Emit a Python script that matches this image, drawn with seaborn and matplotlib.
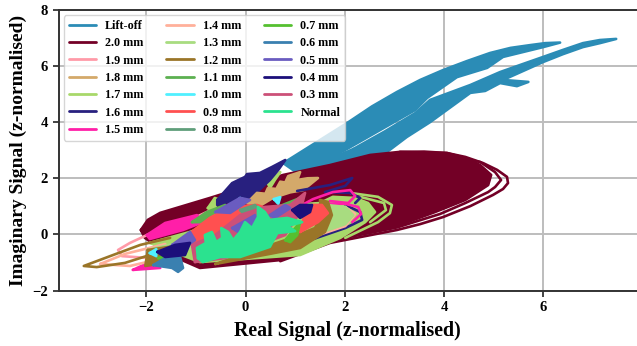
#plotting impedance loci (real vs imaginary) by defect depth
import seaborn as sns
import matplotlib.pyplot as plt

# values, (x, y) in z-normalised units
liftoff_a_x = [0.76, 2.05, 2.55, 3.05, 3.52, 3.98, 4.46, 4.93, 5.34, 5.74, 6.04, 6.34, 6.00, 5.19, 4.87, 4.26, 3.66, 3.42, 2.11, 1.10]
liftoff_a_y = [2.54, 3.97, 4.56, 5.07, 5.50, 5.85, 6.17, 6.46, 6.64, 6.74, 6.81, 6.83, 6.67, 6.32, 5.93, 5.60, 4.86, 4.43, 3.11, 2.12]
liftoff_b_x = [2.17, 2.81, 3.42, 3.72, 4.53, 5.13, 5.53, 6.00, 6.40, 6.80, 7.14, 7.47, 7.14, 6.80, 6.40, 6.00, 5.19, 5.70, 5.47, 5.13, 4.83, 4.53, 3.72, 3.25, 2.77, 1.70, 1.10]
liftoff_b_y = [3.04, 3.67, 4.32, 4.79, 5.32, 5.78, 6.03, 6.32, 6.57, 6.81, 6.92, 6.96, 6.81, 6.67, 6.42, 6.14, 5.50, 5.43, 5.28, 5.39, 5.11, 5.04, 4.00, 3.47, 2.83, 2.22, 2.22]

d20_x = [-2.11, -1.97, -1.72, -0.72, 0.76, 1.70, 2.51, 3.11, 3.60, 4.06, 4.43, 4.73, 4.95, 4.89, 4.43, 3.82, 3.05, 1.70, 0.70, -0.92, -1.52, -2.03]
d20_y = [0.16, 0.52, 0.77, 1.30, 2.12, 2.47, 2.83, 2.94, 2.95, 2.90, 2.72, 2.47, 2.12, 1.76, 1.23, 0.80, 0.30, -0.15, -0.91, -1.19, -0.73, -0.12]
d20_outer_x = [3.11, 4.06, 4.43, 4.79, 5.07, 5.27, 5.29, 5.19, 4.99, 4.53, 3.98, 3.52, 3.05, 1.70, 0.70]
d20_outer_y = [2.94, 2.90, 2.76, 2.54, 2.30, 2.05, 1.83, 1.62, 1.41, 1.01, 0.62, 0.37, 0.16, -0.30, -0.95]
d20_inner_x = [4.32, 4.73, 5.03, 5.15, 5.03, 4.89, 4.43, 3.92, 3.05, 1.70]
d20_inner_y = [2.72, 2.58, 2.22, 1.94, 1.69, 1.51, 1.12, 0.73, 0.25, -0.23]

d19_x = [-0.61, -1.12, -1.72, -2.33, -2.57, -2.49, -1.93, -1.32]
d19_y = [0.94, 0.52, 0.20, -0.30, -0.55, -0.77, -0.84, -0.55]

d18_x = [0.03, 0.23, 0.40, 0.45, 0.62, 0.70, 0.80, 0.86, 1.10, 1.04, 1.25, 1.46, 1.16, 0.90, 0.55, 0.25]
d18_y = [1.12, 1.48, 1.45, 1.65, 1.62, 1.88, 1.85, 2.08, 2.22, 1.94, 2.00, 2.01, 1.58, 1.50, 1.30, 0.98]

d17_x = [-1.93, -1.12, -0.11, 0.90, 1.50, 1.76, 2.21, 2.47, 2.61, 2.41, 1.91, 1.10, -0.92]
d17_y = [-0.30, 0.09, 0.77, 1.05, 1.12, 1.34, 1.30, 1.12, 0.80, 0.44, -0.12, -0.73, -0.98]
d17_ring_a_x = [2.11, 2.67, 2.95, 2.91, 2.67, 2.01]
d17_ring_a_y = [1.48, 1.34, 1.05, 0.76, 0.44, -0.12]
d17_ring_b_x = [2.31, 2.79, 2.83, 2.51]
d17_ring_b_y = [1.34, 1.12, 0.87, 0.44]
d17_strip_a_x = [-0.76, -0.62, -0.51, -0.66]
d17_strip_a_y = [0.94, 1.30, 1.23, 0.87]
d17_strip_b_x = [0.45, 0.70, 0.59, 0.49]
d17_strip_b_y = [1.83, 2.22, 1.94, 1.65]

d16_x = [-0.57, -0.27, -0.01, 0.03, 0.29, 0.53, 0.80, 0.66, 0.49, 0.19, -0.11, -0.37, -0.57]
d16_y = [1.23, 1.83, 2.05, 2.15, 2.19, 2.40, 2.65, 2.30, 1.94, 1.44, 1.15, 1.15, 1.05]
d16_loop_a_x = [1.04, 1.70, 2.15, 2.01, 1.60, 2.11, 2.31, 2.21]
d16_loop_a_y = [1.55, 1.76, 2.01, 1.73, 1.51, 1.48, 1.30, 1.12]
d16_loop_b_x = [2.01, 2.31, 2.35, 2.01, 1.30, 0.70]
d16_loop_b_y = [1.05, 0.80, 0.52, 0.23, -0.20, -0.41]

d15_x = [-1.99, -1.62, -0.98, -0.86, -1.26, -1.93]
d15_y = [-0.02, 0.41, 0.69, 0.44, 0.16, -0.16]
d15_low_x = [-2.27, -1.93, -1.72]
d15_low_y = [-1.26, -0.98, -1.19]
d15_loop_a_x = [1.10, 1.36, 1.76, 2.11, 2.21, 2.07, 1.70]
d15_loop_a_y = [1.01, 1.26, 1.51, 1.58, 1.37, 1.12, 1.19]
d15_loop_b_x = [1.50, 2.01, 2.27, 2.33, 2.15]
d15_loop_b_y = [1.09, 1.09, 0.98, 0.73, 0.44]

d14_x = [2.01, 2.21, 2.01, 1.30, 0.49]
d14_y = [0.98, 0.73, 0.30, -0.12, -0.37]
d14_left_x = [-2.93, -2.43, -1.62, -1.48, -2.33, -2.93]
d14_left_y = [-1.05, -0.69, -0.34, -0.77, -1.12, -1.05]

d13_x = [1.64, 2.01, 2.17, 2.01, 1.60, 1.54]
d13_y = [1.05, 0.98, 0.69, 0.37, 0.12, 0.69]
d13_left_x = [-1.97, -1.12, -0.92, -1.72]
d13_left_y = [-0.55, -0.20, -0.41, -0.73]

d12_x = [-0.61, 0.49, 1.10, 1.60, 1.74, 1.66, 1.50, 1.54, 1.40, 0.80, 0.09]
d12_y = [-1.05, -0.69, -0.48, 0.09, 0.69, 1.16, 1.23, 0.69, 0.23, -0.20, -0.62]
d12_tip_x = [-1.52, -2.12, -2.67, -3.26, -3.00, -2.43, -1.93, -1.42]
d12_tip_y = [-0.12, -0.37, -0.73, -1.12, -1.16, -1.01, -0.73, -0.55]
d12_low_x = [-1.97, -1.42, -1.52, -2.02]
d12_low_y = [-0.55, -0.41, -0.98, -1.12]

d11_x = [-1.08, -0.78, -0.41, -0.47, -0.92]
d11_y = [0.44, 0.80, 1.05, 0.80, 0.44]
d11_b_x = [0.59, 1.10, 1.06, 0.70]
d11_b_y = [0.94, 1.30, 1.09, 0.84]

d10_x = [-0.27, -0.11, -0.01, -0.11]
d10_y = [1.05, 1.30, 1.23, 1.01]
d10_b_x = [0.57, 0.70, 0.66]
d10_b_y = [1.26, 1.33, 1.09]
d10_c_x = [-1.93, -1.80, -1.80]
d10_c_y = [-0.66, -0.52, -0.77]

d09_x = [-1.12, -0.72, -0.31, 0.23, 0.35, -0.17, -0.72, -1.08]
d09_y = [0.05, 0.59, 0.98, 1.05, 0.98, 0.34, -0.09, -0.37]
d09_b_x = [1.10, 1.20, 1.34, 1.54, 1.66, 1.46]
d09_b_y = [0.09, 0.80, 1.05, 1.05, 0.76, 0.44]

d08_x = [-0.11, 0.19, 0.29, -0.01]
d08_y = [0.87, 1.05, 0.87, 0.69]

d07_x = [0.80, 1.10, 1.04, 0.90]
d07_y = [-0.20, 0.44, -0.02, -0.27]
d07_b_x = [-1.76, -1.52, -1.56]
d07_b_y = [-0.84, -0.73, -0.84]

d06_x = [-1.86, -1.62, -1.32, -1.26, -1.36, -1.48]
d06_y = [-1.09, -0.84, -0.80, -1.19, -1.33, -1.19]

d05_x = [-0.61, -0.11, 0.09, -0.31]
d05_y = [0.80, 1.30, 1.23, 0.77]
d05_b_x = [-0.27, 0.19, 0.25, -0.15]
d05_b_y = [0.23, 0.69, 0.44, 0.09]
d05_c_x = [0.49, 0.80, 0.90, 0.59]
d05_c_y = [0.69, 1.05, 0.94, 0.59]
d05_d_x = [-1.48, -1.12, -1.02, -1.32]
d05_d_y = [-0.37, 0.09, -0.20, -0.55]

d04_x = [-1.78, -1.42, -1.12, -1.22, -1.62]
d04_y = [-0.62, -0.37, -0.30, -0.73, -0.80]
d04_b_x = [0.94, 1.10, 1.34, 1.30, 1.10]
d04_b_y = [0.87, 1.05, 1.05, 0.80, 0.59]

d03_x = [-1.02, -1.08, -0.61, -0.11, 0.39, 0.90, 1.20, 1.10, 0.80, 0.09, -0.41]
d03_y = [-0.98, -0.37, -0.02, 0.69, 0.98, 1.05, 1.48, 0.80, -0.02, -0.48, -0.84]

normal_x = [-0.96, -0.98, -0.80, -0.82, -0.68, -0.59, -0.47, -0.49, -0.35, -0.25, -0.11, -0.01, 0.13, 0.25, 0.25,
            0.39, 0.49, 0.84, 1.14, 0.84, 1.00, 0.64, 0.49, -0.11, -0.51, -0.86]
normal_y = [-0.84, -0.48, -0.30, -0.02, 0.09, -0.27, -0.12, 0.23, 0.09, -0.20, 0.09, 0.44, 0.23, 0.62, 0.98,
            0.80, 0.52, 0.59, 0.44, 0.30, 0.12, 0.05, -0.44, -0.80, -0.80, -0.98]

labels = ['Lift-off', '2.0 mm', '1.9 mm', '1.8 mm', '1.7 mm', '1.6 mm', '1.5 mm', '1.4 mm', '1.3 mm', '1.2 mm', '1.1 mm',
          '1.0 mm', '0.9 mm', '0.8 mm', '0.7 mm', '0.6 mm', '0.5 mm', '0.4 mm', '0.3 mm', 'Normal']
colours = ['#2b8cb6', '#730026', '#ff9aa8', '#d4a96a', '#a8d86a', '#28207f', '#ff1fa8', '#ffb09a', '#a8dc80', '#9a7528',
           '#5cb050', '#50f0ff', '#ff5050', '#5f9e7a', '#55c030', '#3a80b0', '#6a5cc0', '#1c0f7a', '#cc5078', '#2be28f']
palette = dict(zip(labels, colours))

# label, x, y, filled body or just a trace (in drawing order)
traces = [
    ('Lift-off', liftoff_a_x, liftoff_a_y, True),
    ('Lift-off', liftoff_b_x, liftoff_b_y, True),
    ('2.0 mm', d20_x, d20_y, True),
    ('2.0 mm', d20_outer_x, d20_outer_y, False),
    ('2.0 mm', d20_inner_x, d20_inner_y, False),
    ('1.9 mm', d19_x, d19_y, False),
    ('1.7 mm', d17_x, d17_y, True),
    ('1.7 mm', d17_ring_a_x, d17_ring_a_y, False),
    ('1.7 mm', d17_ring_b_x, d17_ring_b_y, False),
    ('1.7 mm', d17_strip_a_x, d17_strip_a_y, True),
    ('1.7 mm', d17_strip_b_x, d17_strip_b_y, True),
    ('1.6 mm', d16_x, d16_y, True),
    ('1.8 mm', d18_x, d18_y, True),
    ('1.6 mm', d16_loop_a_x, d16_loop_a_y, False),
    ('1.6 mm', d16_loop_b_x, d16_loop_b_y, False),
    ('1.5 mm', d15_x, d15_y, True),
    ('1.5 mm', d15_low_x, d15_low_y, True),
    ('1.5 mm', d15_loop_a_x, d15_loop_a_y, False),
    ('1.5 mm', d15_loop_b_x, d15_loop_b_y, False),
    ('1.4 mm', d14_x, d14_y, False),
    ('1.4 mm', d14_left_x, d14_left_y, False),
    ('1.3 mm', d13_x, d13_y, True),
    ('1.3 mm', d13_left_x, d13_left_y, True),
    ('1.2 mm', d12_x, d12_y, True),
    ('1.2 mm', d12_tip_x, d12_tip_y, False),
    ('1.2 mm', d12_low_x, d12_low_y, True),
    ('1.1 mm', d11_x, d11_y, True),
    ('1.1 mm', d11_b_x, d11_b_y, True),
    ('1.0 mm', d10_x, d10_y, True),
    ('1.0 mm', d10_b_x, d10_b_y, True),
    ('1.0 mm', d10_c_x, d10_c_y, True),
    ('0.9 mm', d09_x, d09_y, True),
    ('0.9 mm', d09_b_x, d09_b_y, True),
    ('0.8 mm', d08_x, d08_y, True),
    ('0.7 mm', d07_x, d07_y, True),
    ('0.7 mm', d07_b_x, d07_b_y, True),
    ('0.6 mm', d06_x, d06_y, True),
    ('0.3 mm', d03_x, d03_y, True),
    ('0.5 mm', d05_x, d05_y, True),
    ('0.5 mm', d05_b_x, d05_b_y, True),
    ('0.5 mm', d05_c_x, d05_c_y, True),
    ('0.5 mm', d05_d_x, d05_d_y, True),
    ('0.4 mm', d04_x, d04_y, True),
    ('0.4 mm', d04_b_x, d04_b_y, True),
    ('Normal', normal_x, normal_y, True),
]

sns.set_style('ticks')
plt.rcParams['font.family'] = ['Liberation Serif', 'DejaVu Serif']
plt.rcParams['font.weight'] = 'bold'
plt.rcParams['axes.labelweight'] = 'bold'
plt.rcParams['text.color'] = 'black'
plt.rcParams['axes.labelcolor'] = 'black'
plt.rcParams['xtick.labelcolor'] = 'black'
plt.rcParams['ytick.labelcolor'] = 'black'

fig = plt.figure(figsize=(6.37, 3.46), dpi=100)
ax = fig.add_axes([58.5 / 637, (346 - 290.7) / 346, 1 - 58.5 / 637, (290.7 - 9.7) / 346])

#draw each trace, bodies get filled in as the loci are too dense to see through
handles = {}
for label, xs, ys, filled in traces:
    colour = palette[label]
    if filled:
        xs = xs + xs[:1]
        ys = ys + ys[:1]
        ax.fill(xs, ys, color=colour, lw=0, zorder=2.5)
    sns.lineplot(x=xs, y=ys, sort=False, estimator=None, color=colour, lw=1.9, ax=ax, zorder=2.5)
    if label not in handles:
        handles[label] = ax.lines[-1]

ax.set_xlim(-3.77, 7.89)
ax.set_ylim(-2, 8)
ax.set_xticks([-2, 0, 2, 4, 6])
ax.set_yticks([-2, 0, 2, 4, 6, 8])
ax.grid(True, color='#bdbdbd', lw=1.4)
ax.set_axisbelow(True)
ax.tick_params(labelsize=10.5, length=4.5, width=1.2, color='#222222', pad=3)
for side in ['left', 'bottom', 'top']:
    ax.spines[side].set_color('#333333')
    ax.spines[side].set_linewidth(1.4)
ax.spines['right'].set_visible(False)

ax.set_xlabel('Real Signal (z-normalised)', fontsize=14.4, labelpad=5)
ax.set_ylabel('Imaginary Signal (z-normalised)', fontsize=14, labelpad=4)

leg = ax.legend([handles[l] for l in labels], labels, ncol=3, loc='upper left', fontsize=8.7,
                handlelength=2.25, labelspacing=0.44, columnspacing=1.9, handletextpad=0.75,
                borderaxespad=0.45, borderpad=0.4, framealpha=0.8)
for line in leg.get_lines():
    line.set_linewidth(2)

plt.savefig('out.png', dpi=100)
